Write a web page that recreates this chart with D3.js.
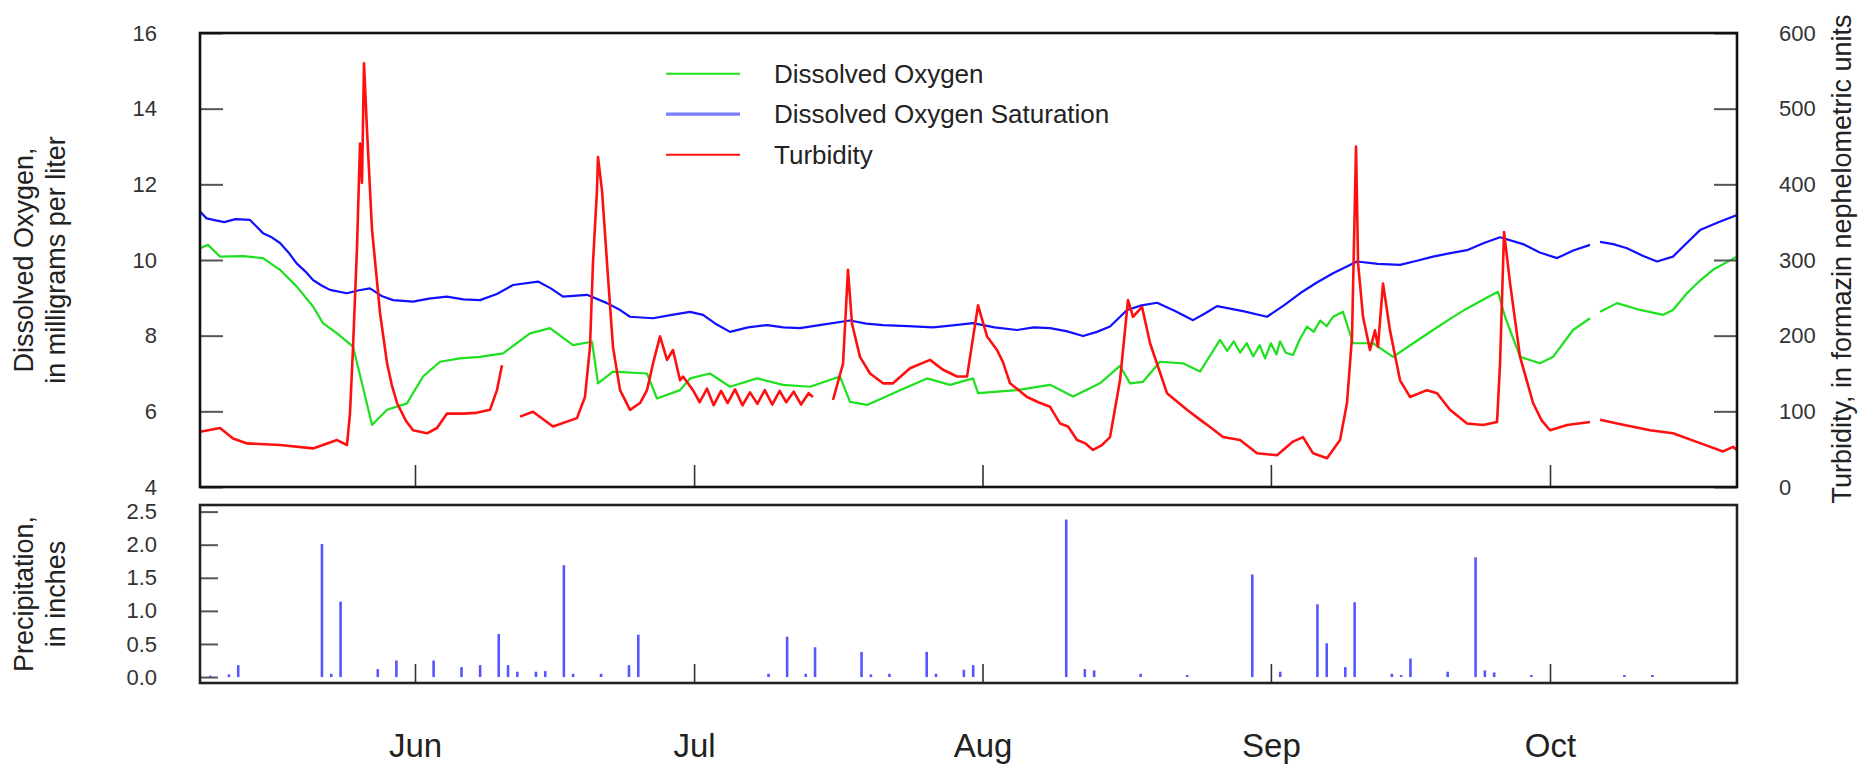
<!DOCTYPE html>
<html>
<head>
<meta charset="utf-8">
<script src="https://cdn.jsdelivr.net/npm/d3@7"></script>
<style>
  html, body { margin: 0; padding: 0; background: #fff; }
  svg { display: block; font-family: "Liberation Sans", Arial, sans-serif; }
</style>
</head>
<body>
<svg id="chart" width="1864" height="769"></svg>
<script>
// ---------------- DATA (days are offsets from 1 June, fractional) ----------------
const baseDate = Date.UTC(2019, 5, 1);
const xDomainDays = [-23.11, 142.1];

const doTicks = [4, 6, 8, 10, 12, 14, 16];
const turbTicks = [0, 100, 200, 300, 400, 500, 600];
const precipTicks = [0.0, 0.5, 1.0, 1.5, 2.0, 2.5];

// Dissolved oxygen saturation (mg/L); null = gap
const satDays = [-23.11,-22.4,-21.68,-20.5,-19.3,-17.74,-16.34,-15.4,-14.51,-13.6,-12.72,-11.8,-10.96,-10.0,-9.14,-7.34,-6.0,-4.84,-3.6,-2.36,-0.21,1.5,3.41,5.2,6.99,8.8,10.53,13.22,14.6,15.91,18.49,20.64,21.9,23.11,25.58,27.6,29.56,30.96,32.4,33.86,35.8,37.84,39.6,41.38,44.0,46.76,48.5,50.31,53.0,55.68,57.8,59.98,62.3,64.71,66.5,68.26,70.0,71.81,73.3,74.71,76.54,78.1,79.76,81.7,83.63,85.0,86.21,89.0,91.58,93.4,95.13,96.9,98.68,101.26,103.5,105.88,107.7,109.43,111.3,113.08,114.9,116.63,119.1,120.9,122.76,124.5,126.3,126.8,127.38,128.8,130.28,131.9,133.5,135.22,136.7,138.13,140.1,142.1];
const satValues = [11.28,11.1,11.06,11.0,11.08,11.06,10.71,10.6,10.45,10.2,9.91,9.7,9.47,9.32,9.21,9.12,9.2,9.25,9.05,8.94,8.9,8.98,9.03,8.96,8.94,9.1,9.34,9.43,9.25,9.03,9.08,8.86,8.7,8.5,8.46,8.55,8.63,8.55,8.3,8.1,8.22,8.28,8.22,8.2,8.3,8.4,8.32,8.28,8.25,8.22,8.27,8.33,8.22,8.15,8.22,8.2,8.12,7.99,8.1,8.24,8.68,8.8,8.87,8.65,8.41,8.6,8.78,8.65,8.5,8.8,9.12,9.4,9.65,9.96,9.9,9.87,9.98,10.09,10.18,10.26,10.45,10.6,10.42,10.2,10.05,10.25,10.4,null,10.48,10.42,10.31,10.12,9.96,10.09,10.45,10.79,11.0,11.19];

// Dissolved oxygen (mg/L)
const doDays = [-23.11,-22.25,-20.96,-18.5,-16.34,-14.51,-12.68,-10.96,-9.89,-8.38,-6.66,-5.7,-4.62,-3.01,-0.86,0.86,2.69,4.8,6.99,9.46,12.36,14.51,16.98,19.03,19.67,21.28,24.94,26.01,28.49,29.56,31.71,33.86,36.76,39.56,42.46,45.68,46.76,48.59,52.13,55.04,57.51,59.98,60.52,64.71,68.26,70.73,73.63,75.78,76.86,78.25,80.08,82.55,84.38,86.53,87.3,88.0,88.7,89.4,90.1,90.8,91.37,92.0,92.6,92.98,93.6,94.38,95.1,95.88,96.6,97.3,98.0,98.68,99.75,100.83,102.98,105.13,107.3,109.43,111.3,113.08,114.8,116.41,117.17,118.78,120.93,122.33,124.48,126.3,126.8,127.38,129.21,131.68,134.16,135.22,136.72,138.1,139.51,142.1];
const doValues = [10.31,10.4,10.09,10.1,10.05,9.74,9.29,8.77,8.33,8.06,7.71,6.74,5.64,6.04,6.21,6.92,7.31,7.4,7.44,7.53,8.06,8.2,7.75,7.84,6.74,7.05,7.0,6.34,6.56,6.87,7.0,6.65,6.87,6.7,6.65,6.92,6.25,6.17,6.56,6.87,6.7,6.87,6.48,6.56,6.7,6.39,6.74,7.2,6.74,6.78,7.31,7.27,7.05,7.89,7.6,7.85,7.55,7.8,7.45,7.75,7.4,7.8,7.5,7.85,7.55,7.49,7.9,8.24,8.1,8.4,8.25,8.5,8.63,7.8,7.8,7.44,7.8,8.15,8.45,8.72,8.95,9.16,8.5,7.44,7.27,7.44,8.15,8.46,null,8.63,8.86,8.68,8.55,8.68,9.12,9.45,9.74,10.09];

// Turbidity (FNU)
const turbDays = [-23.11,-20.96,-19.56,-18.06,-14.51,-10.96,-8.38,-7.31,-6.99,-6.66,-6.23,-5.91,-5.7,-5.48,-5.16,-4.62,-3.76,-3.01,-2.5,-1.93,-1.0,-0.21,1.29,2.36,3.44,5.16,6.6,8.06,8.81,9.35,10.3,11.29,12.68,14.83,17.41,18.27,18.81,19.13,19.56,19.67,20.1,20.64,21.28,22.04,23.11,24.19,24.94,25.58,26.34,27.09,27.73,28.49,28.81,29.88,30.6,31.39,32.1,32.9,33.6,34.4,35.2,36.01,36.8,37.6,38.4,39.2,39.9,40.7,41.5,42.3,42.78,43.8,44.93,46.01,46.54,46.97,47.83,48.91,50.31,51.38,53.21,55.36,56.76,58.26,59.34,60.52,61.49,62.56,63.2,63.96,64.9,65.79,67.0,68.26,69.33,70.2,71.16,72.0,72.88,73.8,74.71,75.78,76.64,77.18,78.15,79.01,80.83,82.0,82.98,84.38,85.6,86.85,88.68,90.51,92.66,94.38,95.45,96.53,98.03,99.43,100.18,100.72,101.15,101.37,101.9,102.65,103.19,103.51,104.05,104.8,105.88,106.95,108.78,109.86,111.25,113.08,114.8,116.31,116.63,117.06,117.71,118.78,120.18,121.1,122.0,123.84,126.3,126.8,127.38,129.21,132.76,135.22,138.13,140.6,141.67,142.1];
const turbValues = [73,78,64,57.6,55.5,51,62,55.5,97,185,318,454,402,560,472,340,230,164,135,111,88,75,71,78,97,97,98,102,128,161,null,93,99.5,80,91,119,185,296,392,436,392,296,185,128,102,111,128,163,199,168,181,141,146,128,112,130,108,127,111,129,108,125,110,128,109,127,112,126,109,124,119,null,115,163,287,216,172,150,137,137,157,168,155,146,146,240,199,181,165,137,128,119,112,106,84,80,62,58,49,55,66,141,247,225,238,190,124,112,102,89,78,66,62,44.5,42,60,66,44.5,38,62,111,199,450,296,225,181,207,185,269,207,141,119,128,124,102,84,82,86,163,337,269,172,111,88,75,82,86,null,89,84,75,71,58,47,53,49];

// Daily precipitation (inches)
const precipDays = [-22,-20,-19,-10,-9,-8,-4,-2,2,5,7,9,10,11,13,14,16,17,20,23,24,38,40,42,43,48,49,51,55,56,59,60,70,72,73,78,83,90,93,97,98,100,101,105,106,107,111,114,115,116,120,130,133];
const precipValues = [0.02,0.04,0.18,2.01,0.05,1.14,0.12,0.25,0.25,0.15,0.18,0.65,0.18,0.08,0.08,0.09,1.69,0.05,0.05,0.18,0.64,0.05,0.61,0.05,0.45,0.38,0.04,0.05,0.38,0.05,0.11,0.18,2.38,0.12,0.1,0.05,0.03,1.55,0.08,1.1,0.51,0.15,1.13,0.05,0.03,0.28,0.08,1.81,0.1,0.07,0.03,0.03,0.03];

const legendLabels = ["Dissolved Oxygen", "Dissolved Oxygen Saturation", "Turbidity"];

// ---------------- DRAW ----------------
const toDate = d => new Date(baseDate + d * 864e5);
const svg = d3.select("#chart");
const font = '"Liberation Sans", Arial, sans-serif';

const L = 200, R = 1737, T1 = 33, B1 = 487, T2 = 505, B2 = 683;

const x = d3.scaleUtc().domain(xDomainDays.map(toDate)).range([L, R]);
const yDO = d3.scaleLinear().domain([4, 16]).range([B1, T1]);
const yT = d3.scaleLinear().domain([0, 600]).range([B1, T1]);
const yP = d3.scaleLinear().domain([-0.09, 2.6]).range([B2, T2]);

const colGreen = "#1ee01e", colBlue = "#1010ff", colRed = "#ff1010";

svg.append("defs").append("clipPath").attr("id", "clipTop")
  .append("rect").attr("x", L).attr("y", T1).attr("width", R - L).attr("height", B1 - T1);

function series(days, vals, yScale, color, width) {
  const pts = days.map((d, i) => [d, vals[i]]);
  const line = d3.line()
    .defined(p => p[1] != null)
    .x(p => x(toDate(p[0])))
    .y(p => yScale(p[1]));
  svg.append("path")
    .attr("clip-path", "url(#clipTop)")
    .attr("d", line(pts))
    .attr("fill", "none")
    .attr("stroke", color)
    .attr("stroke-width", width)
    .attr("stroke-linejoin", "round");
}
series(satDays, satValues, yDO, colBlue, 2.2);
series(doDays, doValues, yDO, colGreen, 2.2);
series(turbDays, turbValues, yT, colRed, 2.6);

// precipitation bars
svg.append("g").selectAll("line")
  .data(precipDays.map((d, i) => [d, precipValues[i]]))
  .join("line")
  .attr("x1", p => x(toDate(p[0])))
  .attr("x2", p => x(toDate(p[0])))
  .attr("y1", yP(0))
  .attr("y2", p => yP(p[1]))
  .attr("stroke", "#5656ff")
  .attr("stroke-width", 2.6);

// axes
function styleAxis(g, fs) {
  g.select(".domain").remove();
  g.selectAll(".tick line").attr("stroke", "#555").attr("stroke-width", 2);
  g.selectAll(".tick text").attr("fill", "#333").attr("font-size", fs).attr("font-family", font);
}
svg.append("g").attr("transform", `translate(${L},0)`)
  .call(d3.axisLeft(yDO).tickValues(doTicks).tickSizeInner(-23).tickSizeOuter(0).tickPadding(43).tickFormat(d3.format("d")))
  .call(g => styleAxis(g, 22));
svg.append("g").attr("transform", `translate(${R},0)`)
  .call(d3.axisRight(yT).tickValues(turbTicks).tickSizeInner(-23).tickSizeOuter(0).tickPadding(42).tickFormat(d3.format("d")))
  .call(g => styleAxis(g, 22));
svg.append("g").attr("transform", `translate(${L},0)`)
  .call(d3.axisLeft(yP).tickValues(precipTicks).tickSizeInner(-18).tickSizeOuter(0).tickPadding(43).tickFormat(d3.format(".1f")))
  .call(g => styleAxis(g, 22));

// month ticks
svg.append("g").attr("transform", `translate(0,${B1})`)
  .call(d3.axisBottom(x).ticks(d3.utcMonth.every(1)).tickSizeInner(-22).tickSizeOuter(0).tickFormat(""))
  .call(g => { styleAxis(g, 0); g.selectAll(".tick line").attr("stroke", "#333").attr("stroke-width", 1.6); });
svg.append("g").attr("transform", `translate(0,${B2})`)
  .call(d3.axisBottom(x).ticks(d3.utcMonth.every(1)).tickSizeInner(-19).tickSizeOuter(0).tickPadding(51).tickFormat(d3.utcFormat("%b")))
  .call(g => { styleAxis(g, 33); g.selectAll(".tick line").attr("stroke", "#333").attr("stroke-width", 1.6); g.selectAll(".tick text").attr("fill", "#222"); });

// frames
svg.append("rect").attr("x", L).attr("y", T1).attr("width", R - L).attr("height", B1 - T1)
  .attr("fill", "none").attr("stroke", "#111").attr("stroke-width", 2.6);
svg.append("rect").attr("x", L).attr("y", T2).attr("width", R - L).attr("height", B2 - T2)
  .attr("fill", "none").attr("stroke", "#222").attr("stroke-width", 2.6);

// axis titles
function vTitle(lines, xs, cy) {
  lines.forEach((t, i) => {
    svg.append("text")
      .attr("transform", `translate(${xs[i]},${cy}) rotate(-90)`)
      .attr("text-anchor", "middle")
      .attr("font-size", 27).attr("font-family", font).attr("fill", "#222")
      .text(t);
  });
}
vTitle(["Dissolved Oxygen,", "in milligrams per liter"], [33, 65], (T1 + B1) / 2);
vTitle(["Precipitation,", "in inches"], [33, 65], (T2 + B2) / 2);
vTitle(["Turbidity, in formazin nephelometric units"], [1851], 259);

// legend
const legColors = [colGreen, "#7a7aff", colRed];
const legWidths = [2, 3.2, 2];
legendLabels.forEach((lab, i) => {
  const yy = 73.7 + i * 40.5;
  svg.append("line").attr("x1", 666).attr("x2", 740).attr("y1", yy).attr("y2", yy)
    .attr("stroke", legColors[i]).attr("stroke-width", legWidths[i]);
  svg.append("text").attr("x", 774).attr("y", yy + 9)
    .attr("font-size", 26).attr("font-family", font).attr("fill", "#222").text(lab);
});
</script>
</body>
</html>
